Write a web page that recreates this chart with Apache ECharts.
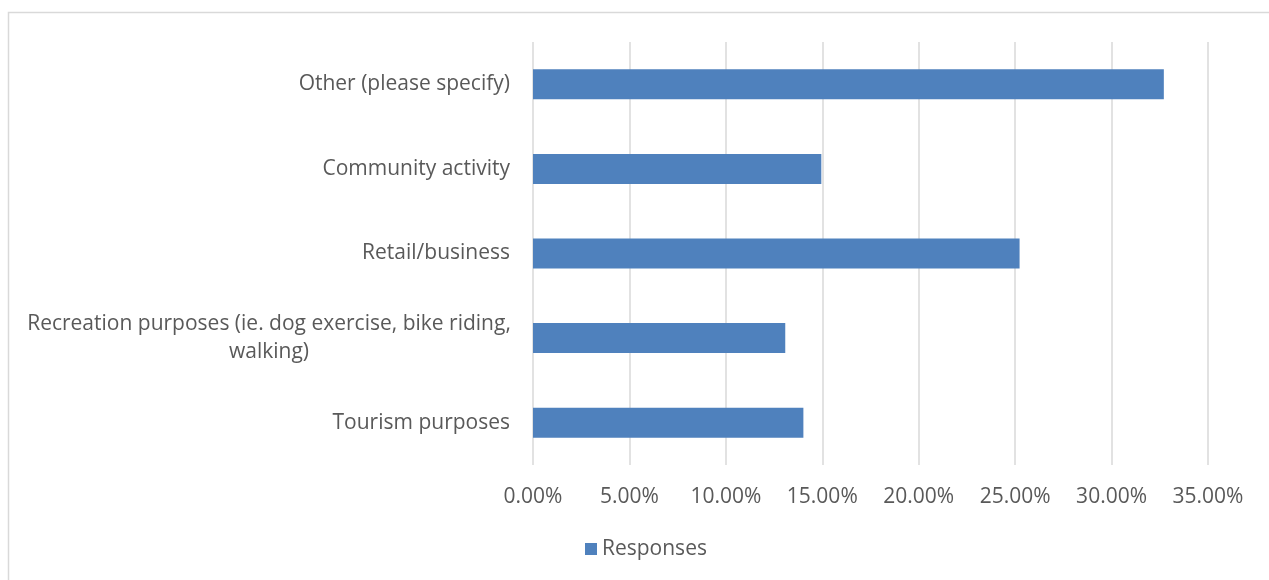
<!DOCTYPE html>
<html>
<head>
<meta charset="utf-8">
<script src="https://cdn.jsdelivr.net/npm/echarts@6/dist/echarts.min.js"></script>
<style>
  html, body { margin: 0; padding: 0; background: #ffffff; }
  #chart { width: 1269px; height: 580px; }
</style>
</head>
<body>
<div id="chart"></div>
<script>
// Survey answers, listed bottom to top as they appear on the category axis
const categories = [
  'Tourism purposes',
  'Recreation purposes (ie. dog exercise, bike riding, walking)',
  'Retail/business',
  'Community activity',
  'Other (please specify)'
];
const responses = [14.02, 13.08, 25.23, 14.95, 32.71];
const seriesName = 'Responses';
const xTicks = { min: 0, max: 35, interval: 5 };

const FONT = '"Open Sans", sans-serif';
const TEXT = '#595959';
const GRID = '#D9D9D9';
const BAR = '#4F81BD';

const chart = echarts.init(document.getElementById('chart'));
chart.setOption({
  animation: false,
  backgroundColor: '#ffffff',
  graphic: [{
    type: 'rect',
    shape: { x: 8.5, y: 12.5, width: 1500, height: 800 },
    style: { fill: 'none', stroke: GRID, lineWidth: 1.5 },
    silent: true
  }],
  grid: { left: 533, right: 61, top: 42, bottom: 115, containLabel: false },
  legend: {
    data: [seriesName],
    left: 585,
    top: 537,
    padding: 0,
    icon: 'rect',
    itemWidth: 12,
    itemHeight: 12,
    textStyle: { color: TEXT, fontFamily: FONT, fontSize: 21, lineHeight: 24 }
  },
  xAxis: {
    type: 'value',
    min: xTicks.min,
    max: xTicks.max,
    interval: xTicks.interval,
    axisLine: { show: false },
    axisTick: { show: false },
    splitLine: { show: true, lineStyle: { color: GRID, width: 1.5 } },
    axisLabel: {
      color: TEXT,
      fontFamily: FONT,
      fontSize: 21,
      lineHeight: 24,
      margin: 20,
      formatter: v => v.toFixed(2) + '%'
    }
  },
  yAxis: {
    type: 'category',
    data: categories,
    axisLine: { show: false },
    axisTick: { show: false },
    splitLine: { show: false },
    axisLabel: {
      color: TEXT,
      fontFamily: FONT,
      fontSize: 21,
      lineHeight: 28,
      margin: 23,
      formatter: function (name) {
        if (name.indexOf('Recreation') === 0) {
          return '{w|Recreation purposes (ie. dog exercise, bike riding,}\n{w|walking)}';
        }
        return name;
      },
      rich: {
        w: {
          width: 482,
          align: 'center',
          color: TEXT,
          fontFamily: FONT,
          fontSize: 21,
          lineHeight: 28
        }
      }
    }
  },
  series: [{
    name: seriesName,
    type: 'bar',
    data: responses,
    barWidth: 30,
    itemStyle: { color: BAR }
  }]
});
</script>
</body>
</html>
